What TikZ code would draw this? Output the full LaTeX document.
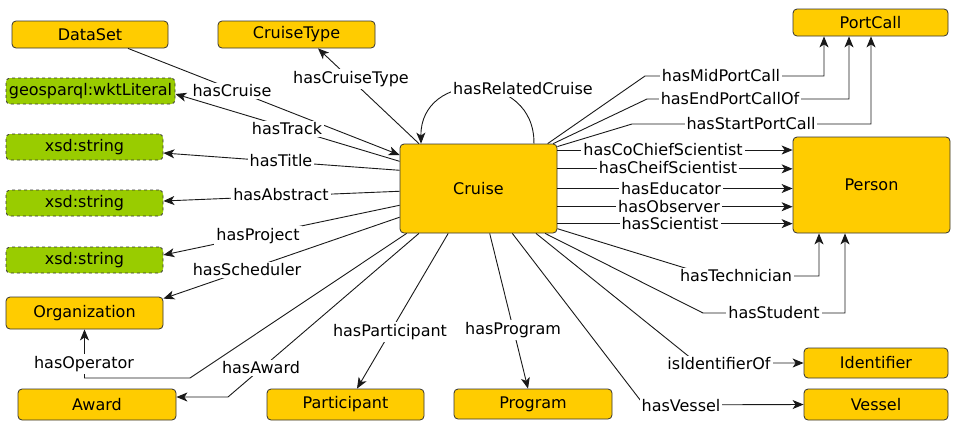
\documentclass[tikz,border=0pt]{standalone}
\usepackage{fontspec}
\setmainfont{DejaVu Sans}
\usetikzlibrary{arrows.meta}
\definecolor{classfill}{RGB}{255,204,0}
\definecolor{literalfill}{RGB}{153,204,0}
\tikzset{
  classbox/.style={draw=black!80, line width=0.8pt, fill=classfill, rounded corners=4pt,
    minimum width=157pt, minimum height=27pt, inner sep=0pt, font=\fontsize{16}{19}\selectfont},
  literalbox/.style={classbox, fill=literalfill, dashed},
  proplabel/.style={fill=white, inner sep=2pt, font=\fontsize{16}{19}\selectfont},
  link/.style={draw=black!90, line width=0.9pt, -{Stealth[length=11pt,width=9pt,inset=3pt]}}
}

\begin{document}
\begin{tikzpicture}[x=1pt,y=-1pt]
  %%%%% START %%%%%
  \useasboundingbox (0,0) rectangle (955,421);

  % classes
  \node[classbox, minimum width=156pt] (dataset) at (90,34.5) {DataSet};
  \node[classbox] (cruisetype) at (296.5,34.5) {CruiseType};
  \node[classbox, minimum width=155pt] (portcall) at (870.5,22.5) {PortCall};
  \node[classbox, minimum height=89pt] (cruise) at (478.5,188.5) {Cruise};
  \node[classbox, minimum height=96pt] (person) at (871.5,185) {Person};
  \node[classbox, minimum height=32pt] (org) at (84.5,313) {Organization};
  \node[classbox, minimum width=158pt, minimum height=31pt] (award) at (97,404.5) {Award};
  \node[classbox, minimum height=31pt] (participant) at (345.5,404.5) {Participant};
  \node[classbox, minimum width=158pt, minimum height=30pt] (program) at (533,404) {Program};
  \node[classbox, minimum width=144pt, minimum height=30pt] (identifier) at (876,363) {Identifier};
  \node[classbox, minimum width=144pt, minimum height=31pt] (vessel) at (876,404.5) {Vessel};

  % literals
  \node[literalbox, minimum width=169pt, minimum height=26pt] (wkt) at (90.5,91) {geosparql:wktLiteral};
  \node[literalbox, minimum height=26pt] (title) at (84.5,147) {xsd:string};
  \node[literalbox, minimum height=26pt] (abstract) at (84.5,203) {xsd:string};
  \node[literalbox, minimum height=26pt] (project) at (84.5,260) {xsd:string};

  % left side
  \draw[link] ([xshift=38pt]dataset.south) -- (cruise.157);
  \node[proplabel] (pcruise) at (232,91) {hasCruise};
  \draw[link] (cruise.143) -- ([xshift=21.5pt]cruisetype.south);
  \node[proplabel] (pcruisetype) at (351,79) {hasCruiseType};
  \draw[link] (cruise.161) -- ([yshift=-3pt]wkt.east);
  \node[proplabel] (ptrack) at (287,129) {hasTrack};
  \draw[link] (cruise.167) -- ([yshift=-6pt]title.east);
  \node[proplabel] (ptitle) at (281,161) {hasTitle};
  \draw[link] (cruise.182) -- ([yshift=2pt]abstract.east);
  \node[proplabel] (pabstract) at (281,195) {hasAbstract};
  \draw[link] (cruise.192) -- ([yshift=5pt]project.east);
  \node[proplabel] (pproject) at (258,236) {hasProject};
  \draw[link] (cruise.200) -- ([yshift=-2pt]org.north east);
  \node[proplabel] (pscheduler) at (247,270) {hasScheduler};
  \draw[link] (cruise.212) -- (190,378) -| (org.south);
  \node[proplabel] (poperator) at (84,364) {hasOperator};
  \draw[link] (cruise.217) -- (228,397) -- ([yshift=7.5pt]award.east);
  \node[proplabel] (paward) at (261,368) {hasAward};

  % below
  \draw[link] (cruise.236.5) -- ([xshift=11.5pt]participant.north);
  \node[proplabel] (pparticipant) at (390,332) {hasParticipant};
  \draw[link] (cruise.284.5) -- ([xshift=-5pt]program.north);
  \node[proplabel] (pprogram) at (513,330) {hasProgram};
  \draw[link] (cruise.307) -- (644,405) -- (vessel.west);
  \node[proplabel] (pvessel) at (681,406) {hasVessel};
  \draw[link] (cruise.322) -- (697,363) -- (identifier.west);
  \node[proplabel] (pidentifier) at (719,364) {isIdentifierOf};

  % self loop
  \draw[link] (cruise.39) .. controls (535,70) and (420,70) .. (cruise.142);
  \node[proplabel] (prelated) at (523,89) {hasRelatedCruise};

  % port calls
  \draw[link] (cruise.33) -- (645,76) -| ([xshift=-46.5pt]portcall.south);
  \node[proplabel] (pmid) at (721,76) {hasMidPortCall};
  \draw[link] (cruise.31) -- (647,99) -| ([xshift=-21.5pt]portcall.south);
  \node[proplabel] (pend) at (730,99) {hasEndPortCallOf};
  \draw[link] (cruise.28.4) -- (632,124) -| ([xshift=0.5pt]portcall.south);
  \node[proplabel] (pstart) at (751,124) {hasStartPortCall};

  % people
  \draw[link] (cruise.26) -- (cruise.26 -| person.west);
  \node[proplabel] (pcochief) at (663,149.5) {hasCoChiefScientist};
  \draw[link] (cruise.14.6) -- (cruise.14.6 -| person.west);
  \node[proplabel] (pchief) at (668,168) {hasCheifScientist};
  \draw[link] (cruise.east) -- (cruise.east -| person.west);
  \node[proplabel] (peducator) at (671,188.5) {hasEducator};
  \draw[link] (cruise.-13.3) -- (cruise.-13.3 -| person.west);
  \node[proplabel] (pobserver) at (669,207) {hasObserver};
  \draw[link] (cruise.-24.3) -- (cruise.-24.3 -| person.west);
  \node[proplabel] (pscientist) at (670,224) {hasScientist};
  \draw[link] (cruise.-27) -- (711,276) -| ([xshift=-52.5pt]person.south);
  \node[proplabel] (ptechnician) at (736,276) {hasTechnician};
  \draw[link] (cruise.-34) -- (703,313) -| ([xshift=-26.5pt]person.south);
  \node[proplabel] (pstudent) at (774,313) {hasStudent};

  %%%%% END %%%%%
\end{tikzpicture}
\end{document}
